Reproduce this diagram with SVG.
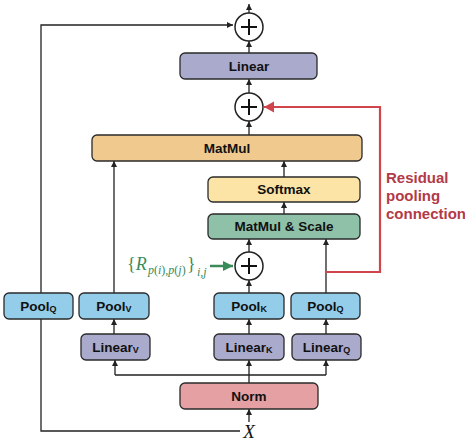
<svg xmlns="http://www.w3.org/2000/svg" width="465" height="441" viewBox="0 0 465 441">
<style>
.box{stroke:#2a2a2a;stroke-width:1.3}
.lbl{font-family:"Liberation Sans",Arial,sans-serif;font-weight:bold;font-size:13.5px;fill:#111;text-anchor:middle}
.sub{font-size:9px}
.ln{fill:none;stroke:#222;stroke-width:1.3}
.circ{fill:#fff;stroke:#222;stroke-width:1.5}
.plus{stroke:#111;stroke-width:2}
.math{font-family:"Liberation Serif","Times New Roman",serif;fill:#3b8a5a}
</style>
<defs>
<marker id="ah" markerWidth="7" markerHeight="7" refX="6" refY="3.5" orient="auto" markerUnits="userSpaceOnUse"><path d="M0,0.5 L6,3.5 L0,6.5 z" fill="#222"/></marker>
<marker id="ahr" markerWidth="12" markerHeight="12" refX="10" refY="5.5" orient="auto" markerUnits="userSpaceOnUse"><path d="M0,0 L10,5.5 L0,11 z" fill="#d0454c"/></marker>
<marker id="ahg" markerWidth="12" markerHeight="12" refX="10" refY="5" orient="auto" markerUnits="userSpaceOnUse"><path d="M0,0 L10,5 L0,10 z" fill="#3b8a5a"/></marker>
</defs>

<g id="connectors">
<path class="ln" d="M249,13 V4" marker-end="url(#ah)"/>
<path class="ln" d="M249,53 V41" marker-end="url(#ah)"/>
<path class="ln" d="M249,93 V79" marker-end="url(#ah)"/>
<path class="ln" d="M249,135 V121" marker-end="url(#ah)"/>
<path class="ln" d="M284,177 V161" marker-end="url(#ah)"/>
<path class="ln" d="M284,214 V202" marker-end="url(#ah)"/>
<path class="ln" d="M249,252 V239" marker-end="url(#ah)"/>
<path class="ln" d="M326,293 V239" marker-end="url(#ah)"/>
<path class="ln" d="M249,293 V280" marker-end="url(#ah)"/>
<path class="ln" d="M114,293 V161" marker-end="url(#ah)"/>
<path class="ln" d="M114,334 V319" marker-end="url(#ah)"/>
<path class="ln" d="M249,334 V319" marker-end="url(#ah)"/>
<path class="ln" d="M326,334 V319" marker-end="url(#ah)"/>
<path class="ln" d="M249,383 V375 M115,375 H326"/>
<path class="ln" d="M115,375 V360" marker-end="url(#ah)"/>
<path class="ln" d="M249,375 V360" marker-end="url(#ah)"/>
<path class="ln" d="M326,375 V360" marker-end="url(#ah)"/>
<path class="ln" d="M249,422 V409" marker-end="url(#ah)"/>
<path class="ln" d="M240,431 H41 V319"/>
<path class="ln" d="M41,293 V25 H233" marker-end="url(#ah)"/>
<path fill="none" stroke="#d0454c" stroke-width="2.2" d="M326,272 H380 V107 H264" marker-end="url(#ahr)"/>
<path fill="none" stroke="#3b8a5a" stroke-width="2.5" d="M210,266 H233" marker-end="url(#ahg)"/>
</g>

<g id="add-top"><circle class="circ" cx="249" cy="27" r="14"/><path class="plus" d="M241,27 H257 M249,19 V35"/></g>
<g id="linear"><rect class="box" x="180" y="53" width="137" height="26" rx="5" fill="#aaaacd"/><text class="lbl" x="249" y="71">Linear</text></g>
<g id="add-res"><circle class="circ" cx="249" cy="107" r="14"/><path class="plus" d="M241,107 H257 M249,99 V115"/></g>
<g id="matmul"><rect class="box" x="92" y="135" width="270" height="26" rx="5" fill="#f0c98f"/><text class="lbl" x="227" y="153">MatMul</text></g>
<g id="softmax"><rect class="box" x="208" y="177" width="152" height="25" rx="5" fill="#fbe4a5"/><text class="lbl" x="284" y="194">Softmax</text></g>
<g id="matmul-scale"><rect class="box" x="208" y="214" width="152" height="25" rx="5" fill="#8fc0a8"/><text class="lbl" x="284" y="231">MatMul &amp; Scale</text></g>
<g id="add-pos"><circle class="circ" cx="249" cy="266" r="14"/><path class="plus" d="M241,266 H257 M249,258 V274"/></g>

<g id="pos-label">
<text class="math" font-size="18"><tspan x="127" y="270">{</tspan><tspan font-style="italic">R</tspan></text>
<text class="math" font-size="12" y="273.5"><tspan x="148" font-style="italic">p</tspan><tspan>(</tspan><tspan font-style="italic">i</tspan><tspan>),</tspan><tspan font-style="italic">p</tspan><tspan>(</tspan><tspan font-style="italic">j</tspan><tspan>)</tspan></text>
<text class="math" font-size="18" x="187" y="270">}</text>
<text class="math" font-size="12" y="276"><tspan x="197" font-style="italic">i</tspan><tspan>,</tspan><tspan font-style="italic">j</tspan></text>
</g>

<g id="res-label" font-family="Liberation Sans,Arial,sans-serif" font-weight="bold" font-size="15" fill="#b23a47">
<text x="386" y="183">Residual</text>
<text x="386" y="201">pooling</text>
<text x="386" y="219">connection</text>
</g>

<g id="poolq-left"><rect class="box" x="4" y="293" width="69" height="26" rx="5" fill="#94cde9"/><text class="lbl" x="38.5" y="311">Pool<tspan class="sub" dy="1">Q</tspan></text></g>
<g id="poolv"><rect class="box" x="79" y="293" width="70" height="26" rx="5" fill="#94cde9"/><text class="lbl" x="114" y="311">Pool<tspan class="sub" dy="1">V</tspan></text></g>
<g id="poolk"><rect class="box" x="214" y="293" width="70" height="26" rx="5" fill="#94cde9"/><text class="lbl" x="249" y="311">Pool<tspan class="sub" dy="1">K</tspan></text></g>
<g id="poolq-right"><rect class="box" x="291" y="293" width="69" height="26" rx="5" fill="#94cde9"/><text class="lbl" x="325.5" y="311">Pool<tspan class="sub" dy="1">Q</tspan></text></g>
<g id="linearv"><rect class="box" x="81" y="334" width="69" height="26" rx="5" fill="#aaaacd"/><text class="lbl" x="115.5" y="352">Linear<tspan class="sub" dy="1">V</tspan></text></g>
<g id="lineark"><rect class="box" x="214" y="334" width="70" height="26" rx="5" fill="#aaaacd"/><text class="lbl" x="249" y="352">Linear<tspan class="sub" dy="1">K</tspan></text></g>
<g id="linearq"><rect class="box" x="292" y="334" width="69" height="26" rx="5" fill="#aaaacd"/><text class="lbl" x="326.5" y="352">Linear<tspan class="sub" dy="1">Q</tspan></text></g>
<g id="norm"><rect class="box" x="180" y="383" width="138" height="26" rx="5" fill="#e4a0a3"/><text class="lbl" x="249" y="401">Norm</text></g>
<g id="x-input"><text x="249" y="438" font-family="Liberation Serif,serif" font-style="italic" font-size="19" text-anchor="middle" fill="#111">X</text></g>
</svg>
